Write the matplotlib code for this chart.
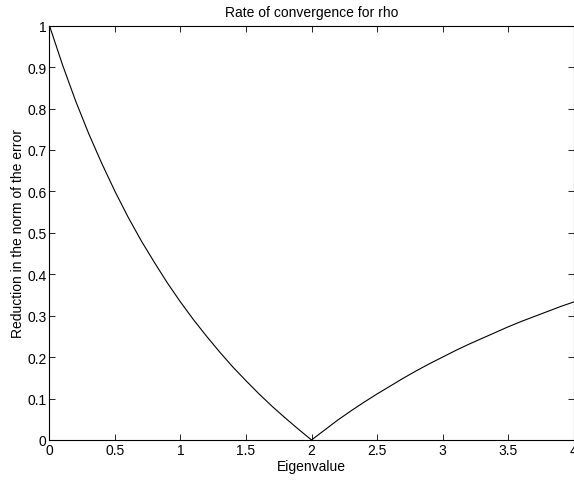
"""Rate of convergence for rho: error reduction per eigenvalue."""

import matplotlib

matplotlib.use("Agg")
import matplotlib.pyplot as plt

# values
eigenvalue = [
    0.0, 0.1, 0.2, 0.3, 0.4, 0.5, 0.6, 0.7, 0.8, 0.9,
    1.0, 1.1, 1.2, 1.3, 1.4, 1.5, 1.6, 1.7, 1.8, 1.9,
    2.0, 2.1, 2.2, 2.3, 2.4, 2.5, 2.6, 2.7, 2.8, 2.9,
    3.0, 3.1, 3.2, 3.3, 3.4, 3.5, 3.6, 3.7, 3.8, 3.9, 4.0,
]
reduction = [
    1.000, 0.905, 0.818, 0.739, 0.667, 0.600, 0.538, 0.481, 0.429, 0.379,
    0.333, 0.290, 0.250, 0.212, 0.176, 0.143, 0.111, 0.081, 0.053, 0.026,
    0.000, 0.024, 0.048, 0.070, 0.091, 0.111, 0.130, 0.149, 0.167, 0.184,
    0.200, 0.216, 0.231, 0.245, 0.259, 0.273, 0.286, 0.298, 0.310, 0.322, 0.333,
]
x_ticks = [0, 0.5, 1, 1.5, 2, 2.5, 3, 3.5, 4]
x_labels = ["0", "0.5", "1", "1.5", "2", "2.5", "3", "3.5", "4"]
y_ticks = [0, 0.1, 0.2, 0.3, 0.4, 0.5, 0.6, 0.7, 0.8, 0.9, 1]
y_labels = ["0", "0.1", "0.2", "0.3", "0.4", "0.5", "0.6", "0.7", "0.8", "0.9", "1"]

plt.rcParams.update({
    "font.family": ["Liberation Sans", "DejaVu Sans"],
    "font.size": 10,
})

fig = plt.figure(figsize=(5.74, 4.81), dpi=100)
ax = fig.add_axes([0.0862, 0.0832, 0.9130, 0.8613])
ax.plot(eigenvalue, reduction, color="black", linewidth=0.8)

ax.set_xlim(0, 4)
ax.set_ylim(0, 1)
ax.set_xticks(x_ticks, x_labels)
ax.set_yticks(y_ticks, y_labels)
ax.tick_params(direction="in", top=True, right=True, length=4, width=0.6, pad=2)
for spine in ax.spines.values():
    spine.set_linewidth(0.8)

ax.set_title("Rate of convergence for rho", fontsize=10, pad=7)
ax.set_xlabel("Eigenvalue", labelpad=1.5)
ax.set_ylabel("Reduction in the norm of the error", labelpad=2)

fig.savefig("out.png", dpi=100, facecolor="white")
